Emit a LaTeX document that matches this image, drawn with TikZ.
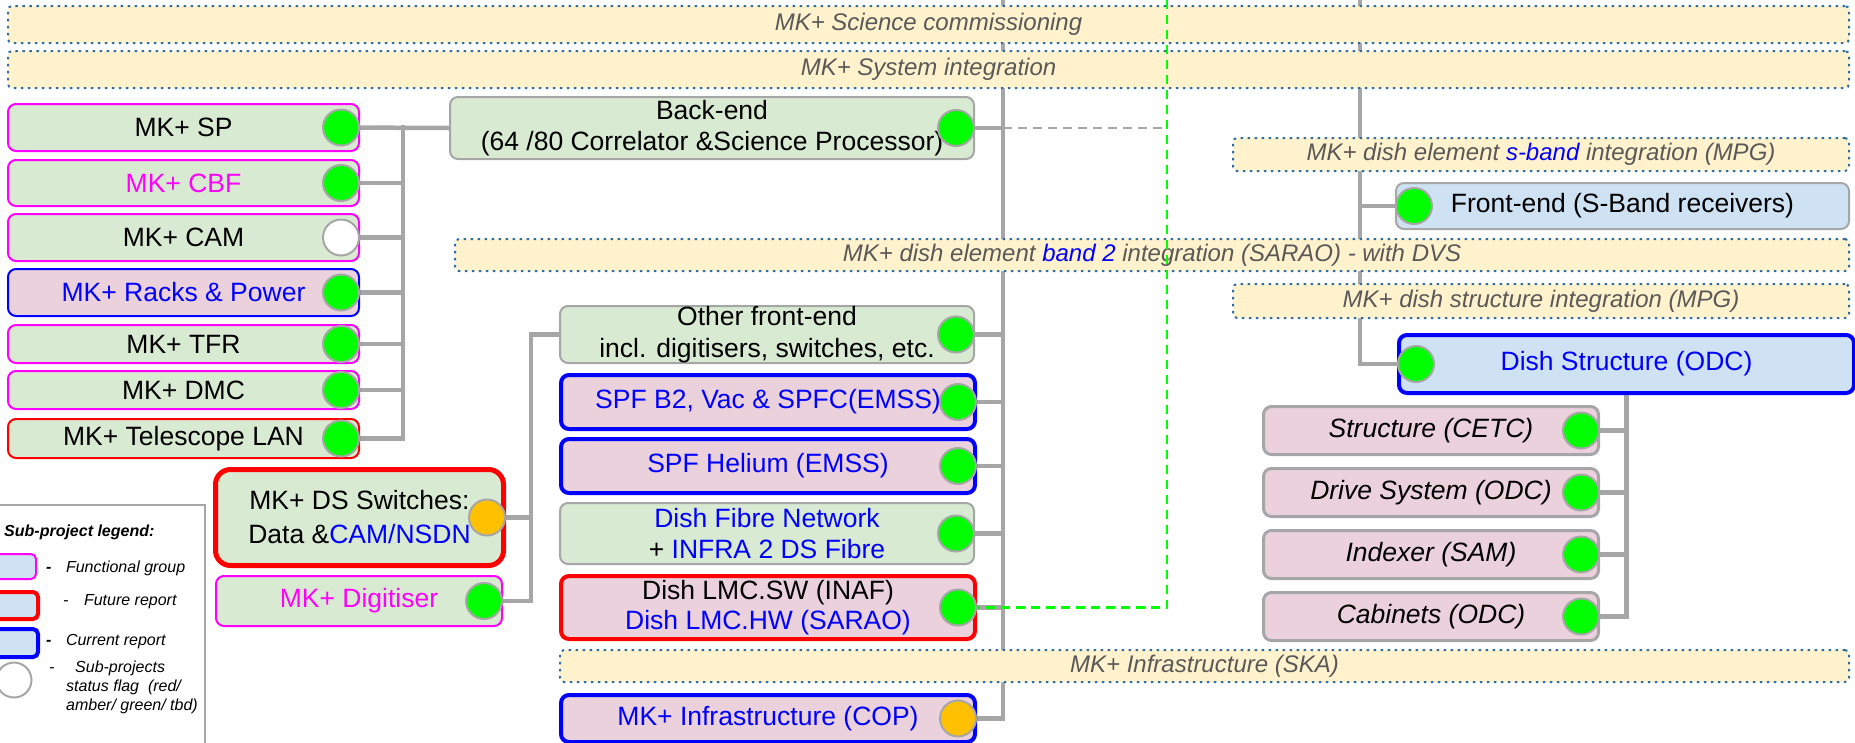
\documentclass[tikz,border=0pt]{standalone}
\usepackage{fontspec}
\setmainfont{Liberation Sans}
\usetikzlibrary{positioning,backgrounds}

\definecolor{grnfill}{HTML}{D9EAD3}
\definecolor{pnkfill}{HTML}{EAD1DC}
\definecolor{blufill}{HTML}{CFE2F3}
\definecolor{bandfill}{HTML}{FFF2CC}
\definecolor{bandline}{HTML}{2E6DA4}
\definecolor{bandtxt}{HTML}{595959}
\definecolor{wiregray}{HTML}{A6A6A6}
\definecolor{mag}{HTML}{FF00FF}
\definecolor{flaggrn}{HTML}{00FF00}
\definecolor{amber}{HTML}{FFC000}

\newcommand{\bigtxt}{\fontsize{26.5}{31.5}\selectfont}

\tikzset{
  box/.style={anchor=north west, rounded corners=8pt, inner sep=0pt, align=center, font=\bigtxt, line width=2pt},
  fgroup/.style={box, draw=mag, fill=grnfill},
  future/.style={box, draw=red, fill=pnkfill, line width=4pt},
  current/.style={box, draw=blue, fill=pnkfill, line width=4pt, text=blue},
  plain/.style={box, draw=wiregray, fill=grnfill},
  sub/.style={box, draw=wiregray, fill=pnkfill, line width=3pt, font=\bigtxt\itshape, minimum width=335pt, minimum height=48pt},
  band/.style={anchor=north west, draw=bandline, line width=2pt, dash pattern=on 2.5pt off 4.5pt, fill=bandfill, rounded corners=4pt, inner sep=0pt, text=bandtxt, font=\fontsize{24}{28}\selectfont\itshape},
  flag/.style={circle, draw=wiregray, line width=2pt, fill=flaggrn, minimum size=36pt, inner sep=0pt},
  link/.style={draw=wiregray, line width=4.5pt, line cap=rect},
  gdash/.style={draw=flaggrn, line width=2.5pt, dash pattern=on 9pt off 6pt},
  legtxt/.style={anchor=west, inner sep=0pt, align=left, font=\fontsize{16}{19}\selectfont\itshape},
}

\begin{document}
\begin{tikzpicture}[x=1pt, y=-1pt]
\useasboundingbox (0,0) rectangle (1855,742);

% integration bands
\node[band, minimum width=1841pt, minimum height=37pt] (sci) at (7,5) {MK+ Science commissioning};
\node[band, minimum width=1841pt, minimum height=37pt] (sys) at (7,50) {MK+ System integration};
\node[band, minimum width=616pt, minimum height=33pt] (sbd) at (1232,137) {MK+ dish element \textcolor{blue}{s-band} integration (MPG)};
\node[band, minimum width=1394pt, minimum height=32pt] (bd2) at (454,238) {MK+ dish element \textcolor{blue}{band 2} integration (SARAO) - with DVS};
\node[band, minimum width=616pt, minimum height=34pt] (dsi) at (1232,283) {MK+ dish structure integration (MPG)};
\node[band, minimum width=1289pt, minimum height=32pt] (ska) at (559,649) {MK+ Infrastructure (SKA)};

% left column
\node[fgroup, minimum width=351pt, minimum height=47pt] (sp) at (7,103) {MK+ SP};
\node[fgroup, minimum width=351pt, minimum height=46pt, text=mag] (cbf) at (7,159) {MK+ CBF};
\node[fgroup, minimum width=351pt, minimum height=47pt] (cam) at (7,213) {MK+ CAM};
\node[box, draw=blue, fill=pnkfill, text=blue, minimum width=351pt, minimum height=47pt] (rp) at (7,268) {MK+ Racks \& Power};
\node[fgroup, minimum width=351pt, minimum height=38pt] (tfr) at (7,324) {MK+ TFR};
\node[fgroup, minimum width=351pt, minimum height=38pt] (dmc) at (7,370) {MK+ DMC};
\node[box, draw=red, fill=grnfill, minimum width=351pt, minimum height=39pt] (lan) at (7,418) {MK+ Telescope LAN};

\node[future, fill=grnfill, rounded corners=15pt, line width=5pt, font=\fontsize{26.5}{34}\selectfont, minimum width=288pt, minimum height=96pt] (dss) at (213,467) {MK+ DS Switches:\\Data \&\textcolor{blue}{CAM/NSDN}};
\node[fgroup, text=mag, minimum width=286pt, minimum height=50pt] (dig) at (215,575) {MK+ Digitiser};

% middle column
\node[plain, minimum width=524pt, minimum height=62pt] (be) at (449,96) {Back-end\\(64 /80 Correlator \&Science Processor)};
\node[plain, minimum width=414pt, minimum height=57pt] (ofe) at (559,305) {Other front-end\\incl. digitisers, switches, etc.};
\node[current, minimum width=414pt, minimum height=54pt] (b2) at (559,373) {SPF B2, Vac \& SPFC(EMSS)};
\node[current, minimum width=414pt, minimum height=54pt] (hel) at (559,437) {SPF Helium (EMSS)};
\node[plain, minimum width=414pt, minimum height=61pt] (fib) at (559,502) {\textcolor{blue}{Dish Fibre Network}\\+ \textcolor{blue}{INFRA 2 DS Fibre}};
\node[future, minimum width=414pt, minimum height=63pt, font=\fontsize{26.5}{30}\selectfont] (lmc) at (559,574) {Dish LMC.SW (INAF)\\\textcolor{blue}{Dish LMC.HW (SARAO)}};
\node[current, minimum width=414pt, minimum height=47pt] (cop) at (559,693) {MK+ Infrastructure (COP)};

% right column
\node[box, draw=wiregray, fill=blufill, minimum width=453pt, minimum height=46pt] (fe) at (1395,182) {Front-end (S-Band receivers)};
\node[current, fill=blufill, minimum width=455pt, minimum height=58pt] (ds) at (1397,333) {Dish Structure (ODC)};
\node[sub] (str) at (1262,405) {Structure (CETC)};
\node[sub, below=11pt of str] (drv) {Drive System (ODC)};
\node[sub, below=11pt of drv] (idx) {Indexer (SAM)};
\node[sub, below=11pt of idx] (cab) {Cabinets (ODC)};

% status flags
\foreach \n in {sp,cbf,rp,tfr,dmc,lan,dig,be,ofe,b2,hel,fib,lmc,str,drv,idx,cab}
  \node[flag, left=0pt of \n.east] (f\n) {};
\node[flag, fill=white, left=0pt of cam.east] (fcam) {};
\node[flag, fill=amber, left=0pt of dss.east] (fdss) {};
\node[flag, fill=amber, left=0pt of cop.east] (fcop) {};
\node[flag, right=0pt of fe.west] (ffe) {};
\node[flag, right=0pt of ds.west] (fds) {};

% connectors
\begin{scope}[on background layer]
\coordinate (lbus) at (403,0);
\coordinate (mlbus) at (531,0);
\coordinate (mbus) at (1003,0);
\coordinate (sbus) at (1360,0);
\coordinate (beend) at (1163,0);
\draw[link] (fsp) -- (be.west);
\draw[link] (fsp -| lbus) -- (flan -| lbus);
\foreach \n in {cbf,cam,rp,tfr,dmc,lan}
  \draw[link] (f\n) -- (f\n -| lbus);
\draw[link] (ofe.west) -| (mlbus |- fdig) -- (fdig);
\draw[link] (fdss) -- (fdss -| mlbus);
\draw[link] (mbus) -- (fcop -| mbus) -- (fcop);
\foreach \n in {be,ofe,b2,hel,fib,lmc}
  \draw[link] (f\n) -- (f\n -| mbus);
\draw[link, line width=2.5pt, line cap=butt, dash pattern=on 9pt off 6pt] (fbe -| mbus) -- (fbe -| beend);
\draw[link] (sbus) |- (fds);
\draw[link] (ffe) -- (ffe -| sbus);
\draw[link] (ds.south) |- (fcab);
\foreach \n in {str,drv,idx}
  \draw[link] (f\n) -- (f\n -| ds.south);
\end{scope}

\coordinate (gtop) at (1167,0);
\draw[gdash] (gtop) |- (lmc.east);

% legend
\draw[wiregray, line width=2pt] (-10,505) rectangle (205,760);
\node[legtxt, font=\fontsize{16}{19}\selectfont\bfseries\itshape] (lgtitle) at (4,532) {Sub-project legend:};
\draw[mag, fill=blufill, line width=2pt, rounded corners=5pt] (-20,554) rectangle (36,579);
\draw[red, fill=blufill, line width=4pt, rounded corners=5pt] (-20,592) rectangle (38,619);
\draw[blue, fill=blufill, line width=4pt, rounded corners=5pt] (-20,629) rectangle (38,657);
\draw[wiregray, fill=white, line width=2pt] (14,680) circle[radius=17.5pt];
\node[legtxt] (lgfg) at (46,568) {\textbf{-}\hspace{14.5pt}Functional group};
\node[legtxt] (lgfr) at (63,602) {-\hspace{15.5pt}Future report};
\node[legtxt] (lgcr) at (46,642) {\textbf{-}\hspace{14.5pt}Current report};
\node[legtxt] (lgdash) at (49,670) {-};
\node[legtxt, anchor=north west] (lgflag) at (66,661) {\hspace*{9pt}Sub-projects\\status flag~~(red/\\amber/ green/ tbd)};
\end{tikzpicture}
\end{document}
